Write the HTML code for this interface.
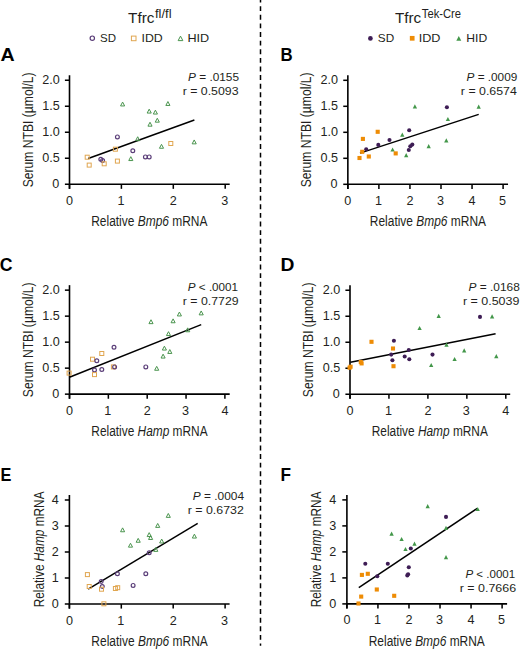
<!DOCTYPE html>
<html><head><meta charset="utf-8"><title>Figure</title>
<style>
html,body{margin:0;padding:0;background:#fff;}
body{width:520px;height:650px;overflow:hidden;}
svg{display:block;font-family:"Liberation Sans", sans-serif;}
</style></head>
<body>
<svg width="520" height="650" viewBox="0 0 520 650">
<rect width="520" height="650" fill="#fff"/>
<line x1="69.50" y1="184.25" x2="229.70" y2="184.25" stroke="#000" stroke-width="1.6"/>
<line x1="69.50" y1="188.85" x2="69.50" y2="75.25" stroke="#000" stroke-width="1.6"/>
<line x1="69.50" y1="184.25" x2="69.50" y2="188.85" stroke="#000" stroke-width="1.52"/>
<line x1="121.40" y1="184.25" x2="121.40" y2="188.85" stroke="#000" stroke-width="1.52"/>
<line x1="173.30" y1="184.25" x2="173.30" y2="188.85" stroke="#000" stroke-width="1.52"/>
<line x1="225.20" y1="184.25" x2="225.20" y2="188.85" stroke="#000" stroke-width="1.52"/>
<line x1="64.90" y1="184.25" x2="69.50" y2="184.25" stroke="#000" stroke-width="1.52"/>
<line x1="64.90" y1="158.25" x2="69.50" y2="158.25" stroke="#000" stroke-width="1.52"/>
<line x1="64.90" y1="132.25" x2="69.50" y2="132.25" stroke="#000" stroke-width="1.52"/>
<line x1="64.90" y1="106.25" x2="69.50" y2="106.25" stroke="#000" stroke-width="1.52"/>
<line x1="64.90" y1="80.25" x2="69.50" y2="80.25" stroke="#000" stroke-width="1.52"/>
<line x1="88.20" y1="158.50" x2="194.40" y2="120.00" stroke="#000" stroke-width="1.5"/>
<path d="M122.60,102.06L124.65,105.95L120.55,105.95Z" fill="none" stroke="#4a944e" stroke-width="1.0"/>
<path d="M167.90,101.56L169.95,105.45L165.85,105.45Z" fill="none" stroke="#4a944e" stroke-width="1.0"/>
<path d="M149.20,109.16L151.25,113.05L147.15,113.05Z" fill="none" stroke="#4a944e" stroke-width="1.0"/>
<path d="M155.40,110.16L157.45,114.05L153.35,114.05Z" fill="none" stroke="#4a944e" stroke-width="1.0"/>
<path d="M157.30,118.26L159.35,122.16L155.25,122.16Z" fill="none" stroke="#4a944e" stroke-width="1.0"/>
<path d="M150.00,122.26L152.05,126.16L147.95,126.16Z" fill="none" stroke="#4a944e" stroke-width="1.0"/>
<circle cx="117.40" cy="136.90" r="1.90" fill="none" stroke="#5a3d78" stroke-width="1.2"/>
<path d="M137.70,136.75L139.75,140.66L135.65,140.66Z" fill="none" stroke="#4a944e" stroke-width="1.0"/>
<path d="M194.20,139.95L196.25,143.85L192.15,143.85Z" fill="none" stroke="#4a944e" stroke-width="1.0"/>
<rect x="168.80" y="141.50" width="4.00" height="4.00" fill="none" stroke="#e0a650" stroke-width="1.0"/>
<path d="M161.50,144.35L163.55,148.25L159.45,148.25Z" fill="none" stroke="#4a944e" stroke-width="1.0"/>
<rect x="113.40" y="147.20" width="4.00" height="4.00" fill="none" stroke="#e0a650" stroke-width="1.0"/>
<circle cx="132.80" cy="150.80" r="1.90" fill="none" stroke="#5a3d78" stroke-width="1.2"/>
<rect x="85.20" y="155.20" width="4.00" height="4.00" fill="none" stroke="#e0a650" stroke-width="1.0"/>
<circle cx="100.80" cy="159.20" r="1.90" fill="none" stroke="#5a3d78" stroke-width="1.2"/>
<circle cx="102.60" cy="160.50" r="1.90" fill="none" stroke="#5a3d78" stroke-width="1.2"/>
<path d="M130.80,156.66L132.85,160.56L128.75,160.56Z" fill="none" stroke="#4a944e" stroke-width="1.0"/>
<circle cx="145.40" cy="156.90" r="1.90" fill="none" stroke="#5a3d78" stroke-width="1.2"/>
<circle cx="149.20" cy="156.90" r="1.90" fill="none" stroke="#5a3d78" stroke-width="1.2"/>
<rect x="87.20" y="163.10" width="4.00" height="4.00" fill="none" stroke="#e0a650" stroke-width="1.0"/>
<rect x="102.20" y="161.80" width="4.00" height="4.00" fill="none" stroke="#e0a650" stroke-width="1.0"/>
<rect x="115.40" y="159.10" width="4.00" height="4.00" fill="none" stroke="#e0a650" stroke-width="1.0"/>
<line x1="347.85" y1="184.30" x2="508.05" y2="184.30" stroke="#000" stroke-width="1.6"/>
<line x1="347.85" y1="188.90" x2="347.85" y2="75.30" stroke="#000" stroke-width="1.6"/>
<line x1="347.85" y1="184.30" x2="347.85" y2="188.90" stroke="#000" stroke-width="1.52"/>
<line x1="378.90" y1="184.30" x2="378.90" y2="188.90" stroke="#000" stroke-width="1.52"/>
<line x1="409.95" y1="184.30" x2="409.95" y2="188.90" stroke="#000" stroke-width="1.52"/>
<line x1="441.00" y1="184.30" x2="441.00" y2="188.90" stroke="#000" stroke-width="1.52"/>
<line x1="472.05" y1="184.30" x2="472.05" y2="188.90" stroke="#000" stroke-width="1.52"/>
<line x1="503.10" y1="184.30" x2="503.10" y2="188.90" stroke="#000" stroke-width="1.52"/>
<line x1="343.25" y1="184.30" x2="347.85" y2="184.30" stroke="#000" stroke-width="1.52"/>
<line x1="343.25" y1="158.30" x2="347.85" y2="158.30" stroke="#000" stroke-width="1.52"/>
<line x1="343.25" y1="132.30" x2="347.85" y2="132.30" stroke="#000" stroke-width="1.52"/>
<line x1="343.25" y1="106.30" x2="347.85" y2="106.30" stroke="#000" stroke-width="1.52"/>
<line x1="343.25" y1="80.30" x2="347.85" y2="80.30" stroke="#000" stroke-width="1.52"/>
<line x1="360.00" y1="153.10" x2="478.70" y2="114.40" stroke="#000" stroke-width="1.5"/>
<path d="M414.90,104.29L417.05,108.49L412.75,108.49Z" fill="#43974a"/>
<circle cx="446.90" cy="107.30" r="2.05" fill="#3e1d55"/>
<path d="M478.70,104.59L480.85,108.79L476.55,108.79Z" fill="#43974a"/>
<path d="M447.90,116.89L450.05,121.09L445.75,121.09Z" fill="#43974a"/>
<circle cx="409.20" cy="130.30" r="2.05" fill="#3e1d55"/>
<rect x="375.65" y="129.75" width="4.10" height="4.10" fill="#ee8c05"/>
<path d="M402.30,132.59L404.45,136.79L400.15,136.79Z" fill="#43974a"/>
<rect x="360.85" y="136.85" width="4.10" height="4.10" fill="#ee8c05"/>
<circle cx="389.50" cy="140.00" r="2.05" fill="#3e1d55"/>
<path d="M446.30,138.29L448.45,142.49L444.15,142.49Z" fill="#43974a"/>
<circle cx="378.30" cy="144.90" r="2.05" fill="#3e1d55"/>
<circle cx="412.30" cy="144.60" r="2.05" fill="#3e1d55"/>
<circle cx="410.30" cy="146.20" r="2.05" fill="#3e1d55"/>
<circle cx="408.80" cy="150.00" r="2.05" fill="#3e1d55"/>
<circle cx="366.20" cy="149.20" r="2.05" fill="#3e1d55"/>
<path d="M392.60,147.39L394.75,151.59L390.45,151.59Z" fill="#43974a"/>
<rect x="360.15" y="149.75" width="4.10" height="4.10" fill="#ee8c05"/>
<rect x="393.65" y="151.35" width="4.10" height="4.10" fill="#ee8c05"/>
<path d="M406.20,153.09L408.35,157.29L404.05,157.29Z" fill="#43974a"/>
<rect x="357.45" y="155.95" width="4.10" height="4.10" fill="#ee8c05"/>
<rect x="366.75" y="154.45" width="4.10" height="4.10" fill="#ee8c05"/>
<path d="M428.70,143.99L430.85,148.19L426.55,148.19Z" fill="#43974a"/>
<line x1="69.50" y1="394.15" x2="229.70" y2="394.15" stroke="#000" stroke-width="1.6"/>
<line x1="69.50" y1="398.75" x2="69.50" y2="285.15" stroke="#000" stroke-width="1.6"/>
<line x1="69.50" y1="394.15" x2="69.50" y2="398.75" stroke="#000" stroke-width="1.52"/>
<line x1="108.35" y1="394.15" x2="108.35" y2="398.75" stroke="#000" stroke-width="1.52"/>
<line x1="147.20" y1="394.15" x2="147.20" y2="398.75" stroke="#000" stroke-width="1.52"/>
<line x1="186.05" y1="394.15" x2="186.05" y2="398.75" stroke="#000" stroke-width="1.52"/>
<line x1="224.90" y1="394.15" x2="224.90" y2="398.75" stroke="#000" stroke-width="1.52"/>
<line x1="64.90" y1="394.15" x2="69.50" y2="394.15" stroke="#000" stroke-width="1.52"/>
<line x1="64.90" y1="368.15" x2="69.50" y2="368.15" stroke="#000" stroke-width="1.52"/>
<line x1="64.90" y1="342.15" x2="69.50" y2="342.15" stroke="#000" stroke-width="1.52"/>
<line x1="64.90" y1="316.15" x2="69.50" y2="316.15" stroke="#000" stroke-width="1.52"/>
<line x1="64.90" y1="290.15" x2="69.50" y2="290.15" stroke="#000" stroke-width="1.52"/>
<line x1="69.40" y1="377.20" x2="201.20" y2="324.60" stroke="#000" stroke-width="1.5"/>
<path d="M179.40,312.06L181.45,315.95L177.35,315.95Z" fill="none" stroke="#4a944e" stroke-width="1.0"/>
<path d="M201.20,310.96L203.25,314.86L199.15,314.86Z" fill="none" stroke="#4a944e" stroke-width="1.0"/>
<path d="M151.00,319.75L153.05,323.65L148.95,323.65Z" fill="none" stroke="#4a944e" stroke-width="1.0"/>
<path d="M173.10,318.86L175.15,322.75L171.05,322.75Z" fill="none" stroke="#4a944e" stroke-width="1.0"/>
<path d="M168.50,331.66L170.55,335.56L166.45,335.56Z" fill="none" stroke="#4a944e" stroke-width="1.0"/>
<path d="M187.70,327.86L189.75,331.75L185.65,331.75Z" fill="none" stroke="#4a944e" stroke-width="1.0"/>
<circle cx="114.00" cy="347.20" r="1.90" fill="none" stroke="#5a3d78" stroke-width="1.2"/>
<rect x="99.80" y="351.50" width="4.00" height="4.00" fill="none" stroke="#e0a650" stroke-width="1.0"/>
<rect x="90.50" y="357.20" width="4.00" height="4.00" fill="none" stroke="#e0a650" stroke-width="1.0"/>
<circle cx="96.80" cy="360.80" r="1.90" fill="none" stroke="#5a3d78" stroke-width="1.2"/>
<rect x="111.40" y="364.90" width="4.00" height="4.00" fill="none" stroke="#e0a650" stroke-width="1.0"/>
<circle cx="114.60" cy="366.90" r="1.90" fill="none" stroke="#5a3d78" stroke-width="1.2"/>
<circle cx="101.80" cy="369.50" r="1.90" fill="none" stroke="#5a3d78" stroke-width="1.2"/>
<circle cx="94.50" cy="370.00" r="1.90" fill="none" stroke="#5a3d78" stroke-width="1.2"/>
<rect x="92.50" y="372.60" width="4.00" height="4.00" fill="none" stroke="#e0a650" stroke-width="1.0"/>
<rect x="67.10" y="371.10" width="4.00" height="4.00" fill="none" stroke="#e0a650" stroke-width="1.0"/>
<circle cx="145.80" cy="366.90" r="1.90" fill="none" stroke="#5a3d78" stroke-width="1.2"/>
<path d="M164.40,346.16L166.45,350.06L162.35,350.06Z" fill="none" stroke="#4a944e" stroke-width="1.0"/>
<path d="M169.80,349.56L171.85,353.45L167.75,353.45Z" fill="none" stroke="#4a944e" stroke-width="1.0"/>
<path d="M163.10,354.16L165.15,358.06L161.05,358.06Z" fill="none" stroke="#4a944e" stroke-width="1.0"/>
<path d="M156.70,366.36L158.75,370.25L154.65,370.25Z" fill="none" stroke="#4a944e" stroke-width="1.0"/>
<line x1="350.00" y1="394.25" x2="510.20" y2="394.25" stroke="#000" stroke-width="1.6"/>
<line x1="350.00" y1="398.85" x2="350.00" y2="285.25" stroke="#000" stroke-width="1.6"/>
<line x1="350.00" y1="394.25" x2="350.00" y2="398.85" stroke="#000" stroke-width="1.52"/>
<line x1="388.95" y1="394.25" x2="388.95" y2="398.85" stroke="#000" stroke-width="1.52"/>
<line x1="427.90" y1="394.25" x2="427.90" y2="398.85" stroke="#000" stroke-width="1.52"/>
<line x1="466.85" y1="394.25" x2="466.85" y2="398.85" stroke="#000" stroke-width="1.52"/>
<line x1="505.80" y1="394.25" x2="505.80" y2="398.85" stroke="#000" stroke-width="1.52"/>
<line x1="345.40" y1="394.25" x2="350.00" y2="394.25" stroke="#000" stroke-width="1.52"/>
<line x1="345.40" y1="368.25" x2="350.00" y2="368.25" stroke="#000" stroke-width="1.52"/>
<line x1="345.40" y1="342.25" x2="350.00" y2="342.25" stroke="#000" stroke-width="1.52"/>
<line x1="345.40" y1="316.25" x2="350.00" y2="316.25" stroke="#000" stroke-width="1.52"/>
<line x1="345.40" y1="290.25" x2="350.00" y2="290.25" stroke="#000" stroke-width="1.52"/>
<line x1="350.40" y1="362.30" x2="495.60" y2="333.80" stroke="#000" stroke-width="1.5"/>
<path d="M438.70,313.69L440.85,317.89L436.55,317.89Z" fill="#43974a"/>
<circle cx="480.00" cy="316.90" r="2.05" fill="#3e1d55"/>
<path d="M492.10,314.19L494.25,318.39L489.95,318.39Z" fill="#43974a"/>
<path d="M419.60,325.89L421.75,330.09L417.45,330.09Z" fill="#43974a"/>
<rect x="369.45" y="339.75" width="4.10" height="4.10" fill="#ee8c05"/>
<circle cx="393.90" cy="340.80" r="2.05" fill="#3e1d55"/>
<rect x="390.95" y="346.45" width="4.10" height="4.10" fill="#ee8c05"/>
<circle cx="408.80" cy="350.00" r="2.05" fill="#3e1d55"/>
<circle cx="391.20" cy="354.60" r="2.05" fill="#3e1d55"/>
<circle cx="404.70" cy="356.50" r="2.05" fill="#3e1d55"/>
<circle cx="409.30" cy="359.20" r="2.05" fill="#3e1d55"/>
<circle cx="392.40" cy="360.30" r="2.05" fill="#3e1d55"/>
<rect x="358.75" y="359.95" width="4.10" height="4.10" fill="#ee8c05"/>
<rect x="359.55" y="361.35" width="4.10" height="4.10" fill="#ee8c05"/>
<rect x="391.45" y="364.15" width="4.10" height="4.10" fill="#ee8c05"/>
<rect x="347.55" y="365.65" width="4.10" height="4.10" fill="#ee8c05"/>
<rect x="348.55" y="364.65" width="4.10" height="4.10" fill="#ee8c05"/>
<path d="M446.50,342.49L448.65,346.69L444.35,346.69Z" fill="#43974a"/>
<path d="M464.20,348.29L466.35,352.49L462.05,352.49Z" fill="#43974a"/>
<circle cx="432.50" cy="354.60" r="2.05" fill="#3e1d55"/>
<path d="M454.60,356.89L456.75,361.09L452.45,361.09Z" fill="#43974a"/>
<path d="M496.30,353.99L498.45,358.19L494.15,358.19Z" fill="#43974a"/>
<path d="M431.20,362.89L433.35,367.09L429.05,367.09Z" fill="#43974a"/>
<line x1="69.40" y1="604.00" x2="229.60" y2="604.00" stroke="#000" stroke-width="1.6"/>
<line x1="69.40" y1="608.60" x2="69.40" y2="495.00" stroke="#000" stroke-width="1.6"/>
<line x1="69.40" y1="604.00" x2="69.40" y2="608.60" stroke="#000" stroke-width="1.52"/>
<line x1="121.30" y1="604.00" x2="121.30" y2="608.60" stroke="#000" stroke-width="1.52"/>
<line x1="173.20" y1="604.00" x2="173.20" y2="608.60" stroke="#000" stroke-width="1.52"/>
<line x1="225.10" y1="604.00" x2="225.10" y2="608.60" stroke="#000" stroke-width="1.52"/>
<line x1="64.80" y1="604.00" x2="69.40" y2="604.00" stroke="#000" stroke-width="1.52"/>
<line x1="64.80" y1="578.00" x2="69.40" y2="578.00" stroke="#000" stroke-width="1.52"/>
<line x1="64.80" y1="552.00" x2="69.40" y2="552.00" stroke="#000" stroke-width="1.52"/>
<line x1="64.80" y1="526.00" x2="69.40" y2="526.00" stroke="#000" stroke-width="1.52"/>
<line x1="64.80" y1="500.00" x2="69.40" y2="500.00" stroke="#000" stroke-width="1.52"/>
<line x1="88.20" y1="589.20" x2="197.70" y2="523.30" stroke="#000" stroke-width="1.5"/>
<path d="M122.60,527.86L124.65,531.75L120.55,531.75Z" fill="none" stroke="#4a944e" stroke-width="1.0"/>
<path d="M138.20,538.36L140.25,542.25L136.15,542.25Z" fill="none" stroke="#4a944e" stroke-width="1.0"/>
<path d="M130.50,543.25L132.55,547.15L128.45,547.15Z" fill="none" stroke="#4a944e" stroke-width="1.0"/>
<path d="M168.30,513.46L170.35,517.36L166.25,517.36Z" fill="none" stroke="#4a944e" stroke-width="1.0"/>
<path d="M157.70,523.46L159.75,527.36L155.65,527.36Z" fill="none" stroke="#4a944e" stroke-width="1.0"/>
<path d="M149.20,532.65L151.25,536.55L147.15,536.55Z" fill="none" stroke="#4a944e" stroke-width="1.0"/>
<path d="M150.60,535.56L152.65,539.46L148.55,539.46Z" fill="none" stroke="#4a944e" stroke-width="1.0"/>
<path d="M194.40,534.15L196.45,538.05L192.35,538.05Z" fill="none" stroke="#4a944e" stroke-width="1.0"/>
<path d="M161.70,539.06L163.75,542.96L159.65,542.96Z" fill="none" stroke="#4a944e" stroke-width="1.0"/>
<path d="M155.80,547.46L157.85,551.36L153.75,551.36Z" fill="none" stroke="#4a944e" stroke-width="1.0"/>
<circle cx="149.20" cy="552.70" r="1.90" fill="none" stroke="#5a3d78" stroke-width="1.2"/>
<rect x="85.40" y="572.60" width="4.00" height="4.00" fill="none" stroke="#e0a650" stroke-width="1.0"/>
<circle cx="117.40" cy="573.80" r="1.90" fill="none" stroke="#5a3d78" stroke-width="1.2"/>
<circle cx="145.80" cy="573.70" r="1.90" fill="none" stroke="#5a3d78" stroke-width="1.2"/>
<circle cx="101.20" cy="581.50" r="1.90" fill="none" stroke="#5a3d78" stroke-width="1.2"/>
<rect x="87.20" y="584.50" width="4.00" height="4.00" fill="none" stroke="#e0a650" stroke-width="1.0"/>
<circle cx="102.30" cy="586.50" r="1.90" fill="none" stroke="#5a3d78" stroke-width="1.2"/>
<rect x="99.50" y="587.20" width="4.00" height="4.00" fill="none" stroke="#e0a650" stroke-width="1.0"/>
<circle cx="133.10" cy="585.40" r="1.90" fill="none" stroke="#5a3d78" stroke-width="1.2"/>
<rect x="113.40" y="586.50" width="4.00" height="4.00" fill="none" stroke="#e0a650" stroke-width="1.0"/>
<rect x="115.70" y="585.70" width="4.00" height="4.00" fill="none" stroke="#e0a650" stroke-width="1.0"/>
<rect x="101.90" y="601.80" width="4.00" height="4.00" fill="none" stroke="#e0a650" stroke-width="1.0"/>
<line x1="346.90" y1="603.90" x2="507.10" y2="603.90" stroke="#000" stroke-width="1.6"/>
<line x1="346.90" y1="608.50" x2="346.90" y2="494.90" stroke="#000" stroke-width="1.6"/>
<line x1="346.90" y1="603.90" x2="346.90" y2="608.50" stroke="#000" stroke-width="1.52"/>
<line x1="377.94" y1="603.90" x2="377.94" y2="608.50" stroke="#000" stroke-width="1.52"/>
<line x1="408.98" y1="603.90" x2="408.98" y2="608.50" stroke="#000" stroke-width="1.52"/>
<line x1="440.02" y1="603.90" x2="440.02" y2="608.50" stroke="#000" stroke-width="1.52"/>
<line x1="471.06" y1="603.90" x2="471.06" y2="608.50" stroke="#000" stroke-width="1.52"/>
<line x1="502.10" y1="603.90" x2="502.10" y2="608.50" stroke="#000" stroke-width="1.52"/>
<line x1="342.30" y1="603.90" x2="346.90" y2="603.90" stroke="#000" stroke-width="1.52"/>
<line x1="342.30" y1="577.90" x2="346.90" y2="577.90" stroke="#000" stroke-width="1.52"/>
<line x1="342.30" y1="551.90" x2="346.90" y2="551.90" stroke="#000" stroke-width="1.52"/>
<line x1="342.30" y1="525.90" x2="346.90" y2="525.90" stroke="#000" stroke-width="1.52"/>
<line x1="342.30" y1="499.90" x2="346.90" y2="499.90" stroke="#000" stroke-width="1.52"/>
<line x1="358.80" y1="587.70" x2="477.30" y2="508.30" stroke="#000" stroke-width="1.5"/>
<path d="M391.60,531.49L393.75,535.69L389.45,535.69Z" fill="#43974a"/>
<path d="M401.60,536.89L403.75,541.09L399.45,541.09Z" fill="#43974a"/>
<path d="M414.50,541.49L416.65,545.69L412.35,545.69Z" fill="#43974a"/>
<path d="M405.50,546.89L407.65,551.09L403.35,551.09Z" fill="#43974a"/>
<circle cx="410.80" cy="548.50" r="2.05" fill="#3e1d55"/>
<circle cx="365.30" cy="563.80" r="2.05" fill="#3e1d55"/>
<circle cx="387.80" cy="563.80" r="2.05" fill="#3e1d55"/>
<circle cx="408.80" cy="567.20" r="2.05" fill="#3e1d55"/>
<rect x="359.85" y="572.85" width="4.10" height="4.10" fill="#ee8c05"/>
<rect x="365.75" y="571.75" width="4.10" height="4.10" fill="#ee8c05"/>
<circle cx="377.30" cy="576.20" r="2.05" fill="#3e1d55"/>
<circle cx="408.10" cy="574.30" r="2.05" fill="#3e1d55"/>
<circle cx="407.30" cy="575.40" r="2.05" fill="#3e1d55"/>
<rect x="374.75" y="587.45" width="4.10" height="4.10" fill="#ee8c05"/>
<rect x="359.15" y="594.55" width="4.10" height="4.10" fill="#ee8c05"/>
<rect x="392.15" y="593.75" width="4.10" height="4.10" fill="#ee8c05"/>
<rect x="356.45" y="601.45" width="4.10" height="4.10" fill="#ee8c05"/>
<path d="M427.70,503.99L429.85,508.19L425.55,508.19Z" fill="#43974a"/>
<circle cx="446.00" cy="516.90" r="2.05" fill="#3e1d55"/>
<path d="M477.70,506.89L479.85,511.09L475.55,511.09Z" fill="#43974a"/>
<path d="M446.00,525.79L448.15,529.99L443.85,529.99Z" fill="#43974a"/>
<path d="M446.00,554.99L448.15,559.19L443.85,559.19Z" fill="#43974a"/>
<circle cx="92.30" cy="38.20" r="2.18" fill="none" stroke="#5a3d78" stroke-width="1.2"/>
<rect x="131.40" y="36.10" width="4.60" height="4.60" fill="none" stroke="#e0a650" stroke-width="1.0"/>
<path d="M180.50,36.13L182.86,40.62L178.14,40.62Z" fill="none" stroke="#4a944e" stroke-width="1.0"/>
<circle cx="370.40" cy="38.40" r="2.36" fill="#3e1d55"/>
<rect x="409.84" y="35.94" width="4.71" height="4.71" fill="#ee8c05"/>
<path d="M458.80,35.94L461.27,40.77L456.33,40.77Z" fill="#43974a"/>
<line x1="260.5" y1="-2.4" x2="260.5" y2="645.8" stroke="#000" stroke-width="1.5" stroke-dasharray="4.9 3.713"/>
<text x="66.00" y="204.75" font-size="12.6" fill="#231f20">0</text>
<text x="117.40" y="204.75" font-size="12.6" fill="#231f20">1</text>
<text x="169.80" y="204.75" font-size="12.6" fill="#231f20">2</text>
<text x="221.20" y="204.75" font-size="12.6" fill="#231f20">3</text>
<text x="52.30" y="188.15" font-size="12.6" fill="#231f20">0</text>
<text x="42.30" y="162.15" font-size="12.6" fill="#231f20">0.5</text>
<text x="42.30" y="136.15" font-size="12.6" fill="#231f20">1.0</text>
<text x="42.30" y="110.15" font-size="12.6" fill="#231f20">1.5</text>
<text x="42.30" y="84.15" font-size="12.6" fill="#231f20">2.0</text>
<text transform="translate(91.22,226.30) scale(0.7818,1)" font-size="15.3" fill="#231f20">Relative <tspan font-style="italic">Bmp6</tspan> mRNA</text>
<text transform="translate(33.00,187.29) rotate(-90) scale(0.7937,1)" font-size="15.3" fill="#231f20">Serum NTBI (µmol/L)</text>
<text transform="translate(188.00,80.50) scale(1.0120,1)" font-size="11.7" fill="#231f20"><tspan font-style="italic">P</tspan> = .0155</text>
<text transform="translate(182.64,94.50) scale(1.0558,1)" font-size="11.7" fill="#231f20">r = 0.5093</text>
<text x="344.35" y="204.80" font-size="12.6" fill="#231f20">0</text>
<text x="374.90" y="204.80" font-size="12.6" fill="#231f20">1</text>
<text x="406.45" y="204.80" font-size="12.6" fill="#231f20">2</text>
<text x="437.00" y="204.80" font-size="12.6" fill="#231f20">3</text>
<text x="468.55" y="204.80" font-size="12.6" fill="#231f20">4</text>
<text x="499.10" y="204.80" font-size="12.6" fill="#231f20">5</text>
<text x="330.60" y="188.20" font-size="12.6" fill="#231f20">0</text>
<text x="320.60" y="162.20" font-size="12.6" fill="#231f20">0.5</text>
<text x="320.60" y="136.20" font-size="12.6" fill="#231f20">1.0</text>
<text x="320.60" y="110.20" font-size="12.6" fill="#231f20">1.5</text>
<text x="320.60" y="84.20" font-size="12.6" fill="#231f20">2.0</text>
<text transform="translate(369.82,226.30) scale(0.7811,1)" font-size="15.3" fill="#231f20">Relative <tspan font-style="italic">Bmp6</tspan> mRNA</text>
<text transform="translate(311.30,187.29) rotate(-90) scale(0.7937,1)" font-size="15.3" fill="#231f20">Serum NTBI (µmol/L)</text>
<text transform="translate(466.50,80.80) scale(1.0080,1)" font-size="11.7" fill="#231f20"><tspan font-style="italic">P</tspan> = .0009</text>
<text transform="translate(460.84,94.50) scale(1.0577,1)" font-size="11.7" fill="#231f20">r = 0.6574</text>
<text x="66.00" y="414.65" font-size="12.6" fill="#231f20">0</text>
<text x="104.35" y="414.65" font-size="12.6" fill="#231f20">1</text>
<text x="143.70" y="414.65" font-size="12.6" fill="#231f20">2</text>
<text x="182.05" y="414.65" font-size="12.6" fill="#231f20">3</text>
<text x="221.40" y="414.65" font-size="12.6" fill="#231f20">4</text>
<text x="52.30" y="398.05" font-size="12.6" fill="#231f20">0</text>
<text x="42.30" y="372.05" font-size="12.6" fill="#231f20">0.5</text>
<text x="42.30" y="346.05" font-size="12.6" fill="#231f20">1.0</text>
<text x="42.30" y="320.05" font-size="12.6" fill="#231f20">1.5</text>
<text x="42.30" y="294.05" font-size="12.6" fill="#231f20">2.0</text>
<text transform="translate(91.32,435.90) scale(0.7779,1)" font-size="15.3" fill="#231f20">Relative <tspan font-style="italic">Hamp</tspan> mRNA</text>
<text transform="translate(33.00,397.19) rotate(-90) scale(0.7930,1)" font-size="15.3" fill="#231f20">Serum NTBI (µmol/L)</text>
<text transform="translate(187.80,290.80) scale(0.9980,1)" font-size="11.7" fill="#231f20"><tspan font-style="italic">P</tspan> &lt; .0001</text>
<text transform="translate(182.85,304.50) scale(1.0519,1)" font-size="11.7" fill="#231f20">r = 0.7729</text>
<text x="346.50" y="414.75" font-size="12.6" fill="#231f20">0</text>
<text x="384.95" y="414.75" font-size="12.6" fill="#231f20">1</text>
<text x="424.40" y="414.75" font-size="12.6" fill="#231f20">2</text>
<text x="462.85" y="414.75" font-size="12.6" fill="#231f20">3</text>
<text x="502.30" y="414.75" font-size="12.6" fill="#231f20">4</text>
<text x="332.70" y="398.15" font-size="12.6" fill="#231f20">0</text>
<text x="322.70" y="372.15" font-size="12.6" fill="#231f20">0.5</text>
<text x="322.70" y="346.15" font-size="12.6" fill="#231f20">1.0</text>
<text x="322.70" y="320.15" font-size="12.6" fill="#231f20">1.5</text>
<text x="322.70" y="294.15" font-size="12.6" fill="#231f20">2.0</text>
<text transform="translate(371.72,435.80) scale(0.7765,1)" font-size="15.3" fill="#231f20">Relative <tspan font-style="italic">Hamp</tspan> mRNA</text>
<text transform="translate(313.20,397.19) rotate(-90) scale(0.7930,1)" font-size="15.3" fill="#231f20">Serum NTBI (µmol/L)</text>
<text transform="translate(468.60,290.80) scale(1.0160,1)" font-size="11.7" fill="#231f20"><tspan font-style="italic">P</tspan> = .0168</text>
<text transform="translate(462.93,304.50) scale(1.0654,1)" font-size="11.7" fill="#231f20">r = 0.5039</text>
<text x="65.90" y="624.50" font-size="12.6" fill="#231f20">0</text>
<text x="117.30" y="624.50" font-size="12.6" fill="#231f20">1</text>
<text x="169.70" y="624.50" font-size="12.6" fill="#231f20">2</text>
<text x="221.10" y="624.50" font-size="12.6" fill="#231f20">3</text>
<text x="51.70" y="607.90" font-size="12.6" fill="#231f20">0</text>
<text x="51.70" y="581.90" font-size="12.6" fill="#231f20">1</text>
<text x="51.70" y="555.90" font-size="12.6" fill="#231f20">2</text>
<text x="51.70" y="529.90" font-size="12.6" fill="#231f20">3</text>
<text x="51.70" y="503.90" font-size="12.6" fill="#231f20">4</text>
<text transform="translate(91.32,645.80) scale(0.7831,1)" font-size="15.3" fill="#231f20">Relative <tspan font-style="italic">Bmp6</tspan> mRNA</text>
<text transform="translate(43.50,607.27) rotate(-90) scale(0.7745,1)" font-size="15.3" fill="#231f20">Relative <tspan font-style="italic">Hamp</tspan> mRNA</text>
<text transform="translate(192.80,500.30) scale(1.0180,1)" font-size="11.7" fill="#231f20"><tspan font-style="italic">P</tspan> = .0004</text>
<text transform="translate(187.74,514.40) scale(1.0577,1)" font-size="11.7" fill="#231f20">r = 0.6732</text>
<text x="343.40" y="624.40" font-size="12.6" fill="#231f20">0</text>
<text x="373.94" y="624.40" font-size="12.6" fill="#231f20">1</text>
<text x="405.48" y="624.40" font-size="12.6" fill="#231f20">2</text>
<text x="436.02" y="624.40" font-size="12.6" fill="#231f20">3</text>
<text x="467.56" y="624.40" font-size="12.6" fill="#231f20">4</text>
<text x="498.10" y="624.40" font-size="12.6" fill="#231f20">5</text>
<text x="329.20" y="607.80" font-size="12.6" fill="#231f20">0</text>
<text x="329.20" y="581.80" font-size="12.6" fill="#231f20">1</text>
<text x="329.20" y="555.80" font-size="12.6" fill="#231f20">2</text>
<text x="329.20" y="529.80" font-size="12.6" fill="#231f20">3</text>
<text x="329.20" y="503.80" font-size="12.6" fill="#231f20">4</text>
<text transform="translate(368.72,645.60) scale(0.7804,1)" font-size="15.3" fill="#231f20">Relative <tspan font-style="italic">Bmp6</tspan> mRNA</text>
<text transform="translate(320.90,607.27) rotate(-90) scale(0.7745,1)" font-size="15.3" fill="#231f20">Relative <tspan font-style="italic">Hamp</tspan> mRNA</text>
<text transform="translate(465.40,577.50) scale(0.9880,1)" font-size="11.7" fill="#231f20"><tspan font-style="italic">P</tspan> &lt; .0001</text>
<text transform="translate(459.74,592.10) scale(1.0635,1)" font-size="11.7" fill="#231f20">r = 0.7666</text>
<text transform="translate(0.40,60.60) scale(1.0615,1)" font-size="18.5" font-weight="bold" fill="#000">A</text>
<text transform="translate(280.49,60.60) scale(0.9083,1)" font-size="18.5" font-weight="bold" fill="#000">B</text>
<text transform="translate(-0.16,270.60) scale(0.9583,1)" font-size="18.5" font-weight="bold" fill="#000">C</text>
<text transform="translate(280.46,270.60) scale(1.0417,1)" font-size="18.5" font-weight="bold" fill="#000">D</text>
<text transform="translate(0.62,480.60) scale(0.8818,1)" font-size="18.5" font-weight="bold" fill="#000">E</text>
<text transform="translate(280.57,480.60) scale(0.9300,1)" font-size="18.5" font-weight="bold" fill="#000">F</text>
<text transform="translate(128.10,22.60) scale(1.0115,1)" font-size="15.2" fill="#231f20">Tfrc</text>
<text transform="translate(155.00,17.90) scale(1.0533,1)" font-size="12.3" fill="#231f20">fl/fl</text>
<text transform="translate(394.90,22.70) scale(1.0077,1)" font-size="15.2" fill="#231f20">Tfrc</text>
<text transform="translate(421.80,18.20) scale(0.9357,1)" font-size="12.0" fill="#231f20">Tek-Cre</text>
<text transform="translate(99.97,41.80) scale(1.0286,1)" font-size="11.2" fill="#231f20">SD</text>
<text transform="translate(141.50,41.80) scale(1.1000,1)" font-size="11.2" fill="#231f20">IDD</text>
<text transform="translate(187.47,41.80) scale(1.1278,1)" font-size="11.2" fill="#231f20">HID</text>
<text transform="translate(377.85,41.80) scale(1.0500,1)" font-size="11.2" fill="#231f20">SD</text>
<text transform="translate(418.67,41.80) scale(1.1278,1)" font-size="11.2" fill="#231f20">IDD</text>
<text transform="translate(466.32,41.80) scale(1.0833,1)" font-size="11.2" fill="#231f20">HID</text>
</svg>
</body></html>
